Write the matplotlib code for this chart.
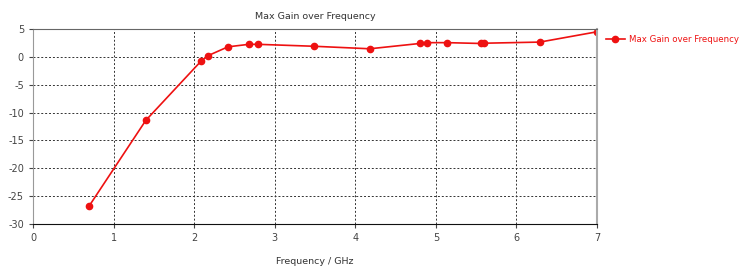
import matplotlib
matplotlib.use("Agg")
from matplotlib import pyplot as plt

plt.rcParams['axes.unicode_minus'] = False

freq = [0.70, 1.40, 2.09, 2.17, 2.42, 2.68, 2.79, 3.49, 4.18, 4.80, 4.89, 5.14, 5.56, 5.60, 6.29, 7.00]
gain = [-26.7, -11.4, -0.7, 0.2, 1.8, 2.25, 2.25, 1.9, 1.45, 2.4, 2.55, 2.55, 2.4, 2.45, 2.65, 4.5]

xticks = [0, 1, 2, 3, 4, 5, 6, 7]
yticks = [5, 0, -5, -10, -15, -20, -25, -30]
title = 'Max Gain over Frequency'
red = '#ee1111'

fig = plt.figure(figsize=(7.4, 2.69), dpi=100)
ax = fig.add_axes([33/740, 1 - 224/269, (597 - 33)/740, (224 - 29)/269])

ax.plot(freq, gain, color=red, marker='o', markersize=4.5, linewidth=1.2,
        label=title)

ax.set_xlim(0, 7)
ax.set_ylim(-30, 5)
ax.set_xticks(xticks)
ax.set_yticks(yticks)
ax.tick_params(labelsize=7, colors='#444444', length=3, width=0.8)
ax.grid(True, color='#333333', linestyle=(0, (2, 2)), linewidth=0.7)

ax.spines['left'].set_color('#999999')
ax.spines['right'].set_color('#aaaaaa')
ax.spines['right'].set_linewidth(1.5)
ax.spines['top'].set_color('#666666')
ax.spines['bottom'].set_color('#111111')

ax.set_title(title, fontsize=6.8, color='#333333', pad=7)
ax.set_xlabel('Frequency / GHz', fontsize=6.8, color='#333333', labelpad=10)

# legend sits outside the axes on the right, tight to the figure edge
leg = ax.legend(loc='upper left', bbox_to_anchor=(1.005, 1.0), frameon=False,
                fontsize=6.2, handlelength=2.2, handletextpad=0.5,
                borderaxespad=0.3)
for t in leg.get_texts():
    t.set_color(red)

fig.savefig('out.png', dpi=100)
